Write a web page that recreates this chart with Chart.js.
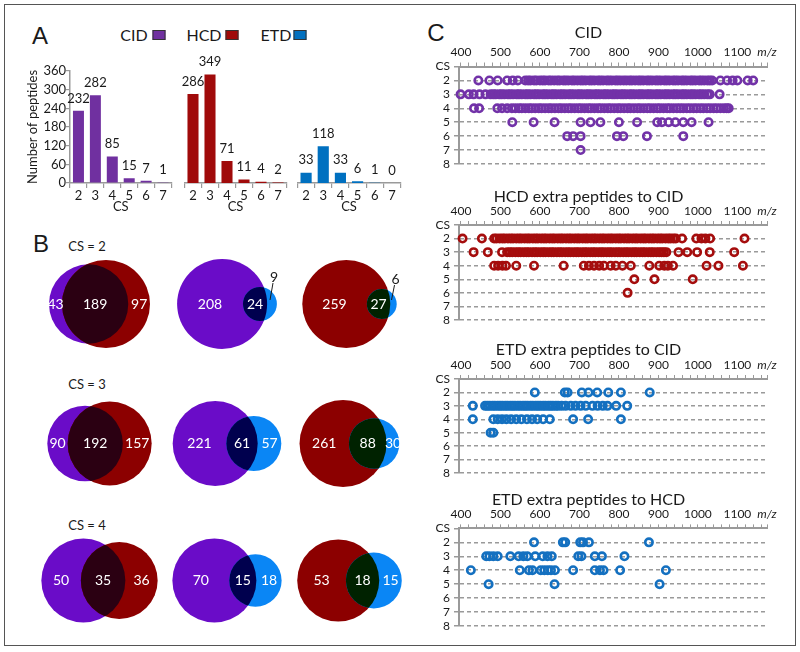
<!DOCTYPE html>
<html lang="en">
<head>
<meta charset="utf-8">
<title>Peptides by charge state: CID / HCD / ETD</title>
<script src="https://cdn.jsdelivr.net/npm/chart.js@4.4.0/dist/chart.umd.min.js"></script>
<style>
  html, body { margin: 0; padding: 0; background: #fff; }
  body { position: relative; width: 800px; height: 652px; overflow: hidden; font-family: Lato, "Open Sans", sans-serif; color: #1a1a1a; }
  #frame { position: absolute; left: 4px; top: 4px; width: 790px; height: 640px; border: 1.5px solid #555; }
  canvas { position: absolute; }
  .txt { position: absolute; white-space: nowrap; line-height: 1; transform: translate(-50%, -50%); }
  .panel { font-family: "Liberation Sans", Arial, sans-serif; font-size: 24px; }
  .key { font-size: 16px; }
  .cs { font-size: 13px; }
  .swatch { position: absolute; width: 11px; height: 8px; border: 1px solid #333; transform: translate(-50%, -50%); }
</style>
</head>
<body>
<div id="frame"></div>
<div class="txt panel" style="left:40px;top:36px">A</div>
<div class="txt panel" style="left:41px;top:244px">B</div>
<div class="txt panel" style="left:436px;top:33px">C</div>

<script>
// ---- data ---------------------------------------------------------------

// A: number of peptides per charge state
const csLabels = ['2', '3', '4', '5', '6', '7'];
const cidCounts = [232, 282, 85, 15, 7, 1];
const hcdCounts = [286, 349, 71, 11, 4, 2];
const etdCounts = [33, 118, 33, 6, 1, 0];
const countTicks = [0, 60, 120, 180, 240, 300, 360];

// B: overlaps per charge state, [only first, both, only second]
const vennCs = [2, 3, 4];
const cidVsHcd = [[43, 189, 97], [90, 192, 157], [50, 35, 36]];
const cidVsEtd = [[208, 24, 9], [221, 61, 57], [70, 15, 18]];
const hcdVsEtd = [[259, 27, 6], [261, 88, 30], [53, 18, 15]];

// C: precursor m/z of every peptide, one list per charge state (2..8)
const csLevels = [2, 3, 4, 5, 6, 7, 8];
const csTicks = [1, 2, 3, 4, 5, 6, 7, 8];   // row 1 carries the "CS" header
const mzTicks = [400, 500, 600, 700, 800, 900, 1000, 1100];

const cidCs2 = [444, 472, 493, 517, 531, 544, 563, 570, 576, 585, 591, 600, 607, 613, 622, 628, 636, 644, 650, 659, 665, 672, 681, 687, 695, 703, 709, 716, 725, 731, 738, 747, 753, 760, 769, 775, 782, 791, 797, 804, 812, 819, 827, 833, 841, 849, 855, 862, 871, 877, 884, 893, 899, 906, 915, 921, 928, 937, 943, 950, 959, 965, 972, 981, 987, 994, 1003, 1009, 1016, 1024, 1030, 1036, 1057, 1074, 1088, 1100, 1126, 1140];
const cidCs3 = [399, 420, 432, 447, 462, 475, 482, 488, 497, 503, 510, 519, 525, 532, 541, 547, 554, 563, 569, 576, 585, 591, 598, 607, 613, 620, 629, 635, 642, 651, 657, 664, 673, 679, 686, 695, 701, 708, 717, 723, 730, 739, 745, 752, 761, 767, 774, 783, 789, 796, 805, 811, 818, 827, 833, 840, 849, 855, 862, 871, 877, 884, 893, 899, 906, 915, 921, 928, 937, 943, 950, 959, 965, 972, 981, 987, 994, 1003, 1009, 1016, 1024, 1030, 1055];
const cidCs4 = [433, 446, 492, 504, 517, 529, 538, 547, 554, 563, 572, 579, 588, 597, 604, 613, 622, 629, 638, 647, 654, 663, 672, 679, 688, 697, 704, 713, 722, 729, 738, 747, 754, 763, 772, 779, 788, 797, 804, 813, 822, 829, 838, 847, 854, 863, 872, 879, 888, 897, 904, 913, 922, 929, 938, 947, 955, 963, 972, 980, 989, 997, 1006, 1014, 1023, 1031, 1040, 1048, 1057, 1066, 1073, 1078];
const cidCs5 = [530, 584, 637, 703, 728, 753, 800, 846, 897, 909, 926, 943, 963, 984, 1027];
const cidCs6 = [669, 684, 703, 795, 811, 871, 963];
const cidCs7 = [703];
const cidCs8 = [];

const hcdCs2 = [404, 453, 484, 490, 498, 505, 511, 519, 526, 532, 540, 547, 553, 561, 568, 574, 582, 589, 595, 603, 610, 616, 624, 631, 637, 645, 652, 658, 666, 673, 679, 687, 694, 700, 708, 715, 721, 729, 736, 742, 750, 757, 763, 771, 778, 784, 792, 799, 805, 813, 820, 826, 834, 841, 847, 855, 862, 868, 876, 883, 889, 897, 904, 910, 918, 925, 931, 938, 944, 960, 996, 1009, 1019, 1031, 1118];
const hcdCs3 = [432, 468, 504, 517, 524, 530, 538, 545, 551, 559, 566, 572, 580, 587, 593, 601, 608, 614, 622, 629, 635, 643, 650, 656, 664, 671, 677, 685, 692, 698, 706, 713, 719, 727, 734, 740, 748, 755, 761, 769, 776, 782, 790, 797, 803, 811, 818, 824, 832, 839, 845, 853, 860, 866, 874, 881, 887, 895, 902, 908, 914, 920, 951, 973, 998, 1030, 1092];
const hcdCs4 = [484, 494, 505, 514, 540, 585, 660, 711, 724, 737, 750, 762, 779, 792, 809, 830, 877, 902, 915, 924, 937, 1022, 1052, 1114];
const hcdCs5 = [839, 890, 987];
const hcdCs6 = [822];
const hcdCs7 = [];
const hcdCs8 = [];

const etdCidCs2 = [587, 663, 670, 706, 723, 745, 773, 805, 878];
const etdCidCs3 = [430, 461, 467, 473, 480, 486, 493, 499, 505, 512, 518, 525, 531, 537, 544, 550, 557, 563, 569, 576, 582, 589, 595, 601, 608, 614, 621, 627, 633, 640, 646, 655, 665, 678, 690, 703, 716, 733, 746, 759, 771, 793, 821];
const etdCidCs4 = [430, 482, 493, 504, 515, 527, 540, 553, 567, 580, 593, 608, 625, 684, 722, 805];
const etdCidCs5 = [475, 482];
const etdCidCs6 = [];
const etdCidCs7 = [];
const etdCidCs8 = [];

const etdHcdCs2 = [585, 658, 664, 702, 709, 724, 876];
const etdHcdCs3 = [464, 472, 482, 493, 525, 546, 558, 568, 588, 607, 619, 630, 697, 705, 739, 757, 814];
const etdHcdCs4 = [425, 549, 572, 581, 602, 611, 620, 628, 638, 684, 739, 752, 761, 803, 919];
const etdHcdCs5 = [470, 637, 903];
const etdHcdCs6 = [];
const etdHcdCs7 = [];
const etdHcdCs8 = [];

// ---- styles -------------------------------------------------------------

const INK = '#1a1a1a';
const AXIS = '#9a9a9a';
const BAR = { CID: '#7030a0', HCD: '#a00a0a', ETD: '#0070c0' };
const VENN = { CID: '#6a0cc8', HCD: '#8c0000', ETD: '#0a86f5' };
const DOT = { CID: '#7232a8', HCD: '#a50d0d', ETD: '#1470c0' };
const MZ_MIN = 395, MZ_MAX = 1175, MZ_MINOR = 20;

Chart.defaults.font.family = 'Lato';
Chart.defaults.color = INK;

function makeCanvas(left, top, w, h) {
    const c = document.createElement('canvas');
    c.width = w;
    c.height = h;
    c.style.left = left + 'px';
    c.style.top = top + 'px';
    c.style.width = w + 'px';
    c.style.height = h + 'px';
    document.body.appendChild(c);
    return c;
}

function addText(cls, text, x, y) {
    const d = document.createElement('div');
    d.className = 'txt ' + cls;
    d.textContent = text;
    d.style.left = x + 'px';
    d.style.top = y + 'px';
    document.body.appendChild(d);
    return d;
}

// fixed axis boxes so the plot areas land where the figure has them
function fixBox(s, w, h) {
    if (w != null) s.width = w;
    if (h != null) s.height = h;
    s.paddingLeft = s.paddingRight = s.paddingTop = s.paddingBottom = 0;
}

// ---- A: bar charts ------------------------------------------------------

const methods = ['CID', 'HCD', 'ETD'];
const legendX = [134, 204, 276];
const swatchX = [159, 232, 300];
methods.forEach((m, i) => {
    addText('key', m, legendX[i], 35);
    const sw = document.createElement('div');
    sw.className = 'swatch';
    sw.style.left = swatchX[i] + 'px';
    sw.style.top = '35px';
    sw.style.background = BAR[m];
    document.body.appendChild(sw);
});

const barValues = {
    id: 'barValues',
    afterDatasetsDraw(chart) {
        const ctx = chart.ctx;
        const vals = chart.data.datasets[0].data;
        ctx.save();
        ctx.font = '13px Lato';
        ctx.fillStyle = INK;
        ctx.textAlign = 'center';
        ctx.textBaseline = 'middle';
        chart.getDatasetMeta(0).data.forEach((bar, i) => {
            ctx.fillText(String(vals[i]), bar.x, bar.y - 12.5);
        });
        ctx.restore();
    }
};

function barChart(canvas, values, color, showY, padLeft, padRight) {
    return new Chart(canvas, {
        type: 'bar',
        data: {
            labels: csLabels,
            datasets: [{ data: values, backgroundColor: color, barPercentage: 0.65, categoryPercentage: 1 }]
        },
        options: {
            responsive: false,
            animation: false,
            devicePixelRatio: 1,
            events: [],
            layout: { autoPadding: false, padding: { left: padLeft, right: padRight, top: 21, bottom: 0 } },
            plugins: { legend: { display: false }, tooltip: { enabled: false } },
            scales: {
                x: {
                    grid: { drawOnChartArea: false, tickLength: 5, color: AXIS, lineWidth: 1.2 },
                    border: { color: AXIS, width: 1.5 },
                    ticks: { autoSkip: false, maxRotation: 0, padding: 0, color: INK, font: { size: 13 } },
                    title: { display: true, text: 'CS', padding: 0, color: INK, font: { size: 13 } },
                    afterFit: s => fixBox(s, null, 32)
                },
                y: {
                    display: showY,
                    min: 0,
                    max: 360,
                    afterBuildTicks: s => { s.ticks = countTicks.map(v => ({ value: v })); },
                    grid: { drawOnChartArea: false, tickLength: 4, color: AXIS, lineWidth: 1.2 },
                    border: { color: AXIS, width: 1.5 },
                    ticks: { autoSkip: false, padding: 0, color: INK, font: { size: 13 } },
                    title: { display: true, text: 'Number of peptides', padding: { top: 3, bottom: 0 }, color: INK, font: { size: 13 } },
                    afterFit: s => fixBox(s, showY ? 48 : 0, null)
                }
            }
        },
        plugins: [barValues]
    });
}

barChart(makeCanvas(10, 50, 170, 165), cidCounts, BAR.CID, true, 12, 8.5);
barChart(makeCanvas(175, 50, 120, 165), hcdCounts, BAR.HCD, false, 9.5, 8.5);
barChart(makeCanvas(288, 50, 120, 165), etdCounts, BAR.ETD, false, 9.5, 7.5);

// ---- B: area-proportional Venn diagrams ---------------------------------

function lensArea(r1, r2, d) {
    if (d >= r1 + r2) return 0;
    if (d <= Math.abs(r1 - r2)) return Math.PI * Math.min(r1, r2) ** 2;
    const a = r1 * r1 * Math.acos((d * d + r1 * r1 - r2 * r2) / (2 * d * r1));
    const b = r2 * r2 * Math.acos((d * d + r2 * r2 - r1 * r1) / (2 * d * r2));
    const c = 0.5 * Math.sqrt((-d + r1 + r2) * (d + r1 - r2) * (d - r1 + r2) * (d + r1 + r2));
    return a + b - c;
}

// radii from set sizes, centre distance from the shared count
function vennGeometry(counts, R) {
    const n1 = counts[0] + counts[1];
    const n2 = counts[1] + counts[2];
    const k = R / Math.sqrt(Math.max(n1, n2));
    const r1 = k * Math.sqrt(n1);
    const r2 = k * Math.sqrt(n2);
    const target = Math.PI * k * k * counts[1];
    let lo = Math.abs(r1 - r2), hi = r1 + r2;
    for (let i = 0; i < 60; i++) {
        const mid = (lo + hi) / 2;
        if (lensArea(r1, r2, mid) > target) lo = mid; else hi = mid;
    }
    return { r1, r2, d: (lo + hi) / 2 };
}

const vennPairs = [
    { counts: cidVsHcd, colors: [VENN.CID, VENN.HCD], overlap: '#2b0012' },
    { counts: cidVsEtd, colors: [VENN.CID, VENN.ETD], overlap: '#00004e' },
    { counts: hcdVsEtd, colors: [VENN.HCD, VENN.ETD], overlap: '#002200' }
];
// layout: centre of each diagram and radius of its larger circle
const vennColX = [99.5, 227, 349.5];
const vennRowY = [304, 443.5, 580.5];
const vennBigR = [[44, 45, 44], [42, 42.5, 43.5], [42, 42, 41]];
const vennTitleY = [246, 384, 524.5];

const venns = [];
const bubbles = [];
const bubbleColors = [];
vennCs.forEach((cs, row) => {
    addText('cs', 'CS = ' + cs, 87, vennTitleY[row]);
    vennPairs.forEach((pair, col) => {
        const counts = pair.counts[row];
        const g = vennGeometry(counts, vennBigR[row][col]);
        const left = Math.min(-g.r1, g.d - g.r2);
        const right = Math.max(g.r1, g.d + g.r2);
        const x1 = vennColX[col] - (left + right) / 2;
        const y = vennRowY[row];
        bubbles.push({ x: x1, y, r: g.r1 }, { x: x1 + g.d, y, r: g.r2 });
        bubbleColors.push(pair.colors[0], pair.colors[1]);
        venns.push({ counts, overlap: pair.overlap });
    });
});

const vennOverlay = {
    id: 'vennOverlay',
    afterDatasetsDraw(chart) {
        const ctx = chart.ctx;
        const pts = chart.getDatasetMeta(0).data;
        venns.forEach((v, i) => {
            const a = pts[2 * i], b = pts[2 * i + 1];
            const ra = a.options.radius, rb = b.options.radius;
            ctx.save();
            ctx.beginPath();
            ctx.arc(a.x, a.y, ra, 0, Math.PI * 2);
            ctx.clip();
            ctx.beginPath();
            ctx.arc(b.x, b.y, rb, 0, Math.PI * 2);
            ctx.fillStyle = v.overlap;
            ctx.fill();
            ctx.restore();

            const leftMid = ((a.x - ra) + (b.x - rb)) / 2;
            const bothMid = ((b.x - rb) + (a.x + ra)) / 2;
            const rightMid = ((a.x + ra) + (b.x + rb)) / 2;
            const rightW = (b.x + rb) - (a.x + ra);
            ctx.save();
            ctx.font = '14px Lato';
            ctx.textAlign = 'center';
            ctx.textBaseline = 'middle';
            ctx.fillStyle = '#fff';
            ctx.fillText(String(v.counts[0]), leftMid, a.y);
            ctx.fillText(String(v.counts[1]), bothMid, a.y);
            if (rightW > 11) {
                ctx.fillText(String(v.counts[2]), rightMid, b.y);
            } else {
                // too thin for the number: put it above with a leader line
                const top = b.y - rb;
                ctx.fillStyle = INK;
                ctx.fillText(String(v.counts[2]), rightMid + 2, top - 10);
                ctx.strokeStyle = INK;
                ctx.lineWidth = 1;
                ctx.beginPath();
                ctx.moveTo(rightMid + 1, top - 4);
                ctx.lineTo(rightMid - 2, b.y - 4);
                ctx.stroke();
            }
            ctx.restore();
        });
    }
};

const VENN_BOX = { left: 5, top: 250, width: 400, height: 385 };
new Chart(makeCanvas(VENN_BOX.left, VENN_BOX.top, VENN_BOX.width, VENN_BOX.height), {
    type: 'bubble',
    data: { datasets: [{ data: bubbles, backgroundColor: bubbleColors, borderWidth: 0, hoverRadius: 0, clip: false }] },
    options: {
        responsive: false,
        animation: false,
        devicePixelRatio: 1,
        events: [],
        layout: { autoPadding: false, padding: 0 },
        plugins: { legend: { display: false }, tooltip: { enabled: false } },
        scales: {
            x: { type: 'linear', display: false, min: VENN_BOX.left, max: VENN_BOX.left + VENN_BOX.width },
            y: { type: 'linear', display: false, reverse: true, min: VENN_BOX.top, max: VENN_BOX.top + VENN_BOX.height }
        }
    },
    plugins: [vennOverlay]
});

// ---- C: m/z by charge state ---------------------------------------------

function toPoints(rows) {
    const pts = [];
    rows.forEach((list, i) => list.forEach(mz => pts.push({ x: mz, y: csLevels[i] })));
    return pts;
}

function mzChart(box, title, rows, color) {
    return new Chart(makeCanvas(410, box.top, 380, box.height), {
        type: 'scatter',
        data: {
            datasets: [{
                data: toPoints(rows),
                pointRadius: 3.7,
                pointBorderWidth: 2.6,
                pointBackgroundColor: 'rgba(0,0,0,0)',
                pointBorderColor: color,
                pointHoverRadius: 3.7,
                clip: false
            }]
        },
        options: {
            responsive: false,
            animation: false,
            devicePixelRatio: 1,
            events: [],
            layout: { autoPadding: false, padding: { left: 0, right: 23, top: 0, bottom: 6 } },
            plugins: {
                legend: { display: false },
                tooltip: { enabled: false },
                title: { display: true, text: title, color: INK, padding: 0, font: { size: 16, weight: 'normal' } }
            },
            scales: {
                x: {
                    type: 'linear',
                    position: 'top',
                    min: MZ_MIN,
                    max: MZ_MAX,
                    afterBuildTicks: s => {
                        const t = [];
                        for (let v = mzTicks[0]; v < MZ_MAX; v += MZ_MINOR) t.push({ value: v });
                        t.push({ value: MZ_MAX });
                        s.ticks = t;
                    },
                    grid: { drawOnChartArea: false, tickLength: 4, color: AXIS, lineWidth: 1 },
                    border: { color: AXIS, width: 2 },
                    ticks: {
                        autoSkip: false,
                        maxRotation: 0,
                        minRotation: 0,
                        padding: 3,
                        color: INK,
                        font: c => ({ size: 12, style: c.tick && c.tick.value === MZ_MAX ? 'italic' : 'normal' }),
                        callback: v => mzTicks.includes(v) ? String(v) : (v === MZ_MAX ? 'm/z' : '')
                    },
                    afterFit: s => fixBox(s, null, box.axisH)
                },
                y: {
                    type: 'linear',
                    reverse: true,
                    min: 1,
                    max: 8,
                    afterBuildTicks: s => { s.ticks = csTicks.map(v => ({ value: v })); },
                    grid: {
                        color: c => c.tick && c.tick.value === 1 ? 'rgba(0,0,0,0)' : AXIS,
                        lineWidth: 1.5,
                        tickLength: 5,
                        tickColor: AXIS
                    },
                    border: { color: AXIS, width: 2, dash: [4, 3] },
                    ticks: {
                        autoSkip: false,
                        padding: 4,
                        color: INK,
                        font: { size: 12 },
                        callback: v => v === 1 ? 'CS' : String(v)
                    },
                    afterFit: s => fixBox(s, 49, null)
                }
            }
        }
    });
}

mzChart({ top: 23, height: 147, axisH: 24.3 }, 'CID',
    [cidCs2, cidCs3, cidCs4, cidCs5, cidCs6, cidCs7, cidCs8], DOT.CID);
mzChart({ top: 187, height: 139, axisH: 18.8 }, 'HCD extra peptides to CID',
    [hcdCs2, hcdCs3, hcdCs4, hcdCs5, hcdCs6, hcdCs7, hcdCs8], DOT.HCD);
mzChart({ top: 340, height: 139, axisH: 19.8 }, 'ETD extra peptides to CID',
    [etdCidCs2, etdCidCs3, etdCidCs4, etdCidCs5, etdCidCs6, etdCidCs7, etdCidCs8], DOT.ETD);
mzChart({ top: 490, height: 142, axisH: 19.2 }, 'ETD extra peptides to HCD',
    [etdHcdCs2, etdHcdCs3, etdHcdCs4, etdHcdCs5, etdHcdCs6, etdHcdCs7, etdHcdCs8], DOT.ETD);
</script>
</body>
</html>
